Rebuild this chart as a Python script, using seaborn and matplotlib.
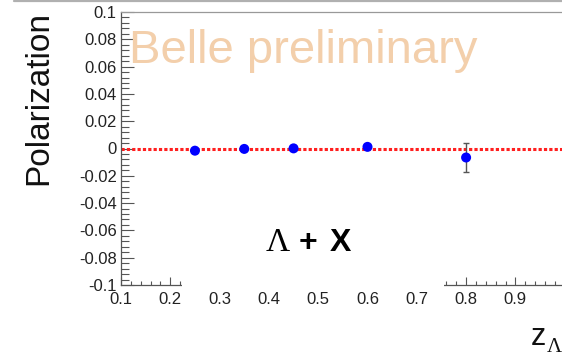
import numpy as np
import pandas as pd
import matplotlib
matplotlib.use("Agg")
import matplotlib.pyplot as plt
import seaborn as sns
from matplotlib.ticker import FixedLocator, FixedFormatter, MultipleLocator
from matplotlib.patches import Rectangle
from matplotlib.lines import Line2D

# Measured Lambda polarization versus fractional energy z
z_lambda = [0.25, 0.35, 0.45, 0.60, 0.80]
polarization = [-0.0016, -0.0003, 0.0001, 0.0012, -0.0066]
pol_error = [0.0012, 0.0012, 0.0012, 0.0014, 0.0105]

x_ticks = [0.1, 0.2, 0.3, 0.4, 0.5, 0.6, 0.7, 0.8, 0.9]
x_tick_labels = ["0.1", "0.2", "0.3", "0.4", "0.5", "0.6", "0.7", "0.8", "0.9"]
y_ticks = [0.1, 0.08, 0.06, 0.04, 0.02, 0.0, -0.02, -0.04, -0.06, -0.08, -0.1]
y_tick_labels = ["0.1", "0.08", "0.06", "0.04", "0.02", "0",
                 "-0.02", "-0.04", "-0.06", "-0.08", "-0.1"]

sns.set_theme(style="white")
plt.rcParams["font.family"] = ["Liberation Sans", "DejaVu Sans"]
plt.rcParams["axes.unicode_minus"] = False

W, H = 562, 361
fig = plt.figure(figsize=(W / 100, H / 100), dpi=100)
fig.patch.set_facecolor("white")


def fx(px):
    return px / W


def fy(py):
    return 1 - py / H


ax = fig.add_axes([fx(121), 76 / H, 443.7 / W, 273 / H])
ax.set_facecolor("white")

df = pd.DataFrame({"z": z_lambda, "pol": polarization, "err": pol_error})

# zero reference line
ax.axhline(0.0, color="#ff1f1f", lw=2.2, linestyle=(0, (1.05, 0.7)), zorder=2)

ax.errorbar(df["z"], df["pol"], yerr=df["err"], fmt="none", ecolor="#555555",
            elinewidth=1.0, capsize=2.0, capthick=1.0, zorder=3)
sns.scatterplot(data=df, x="z", y="pol", color="#0000ff", s=52, edgecolor="none",
                linewidth=0, zorder=4, ax=ax, legend=False)

ax.set_xlim(0.1, 1.0)
ax.set_ylim(-0.1, 0.1)
ax.set_xlabel("")
ax.set_ylabel("")

ax.xaxis.set_major_locator(FixedLocator(x_ticks))
ax.xaxis.set_major_formatter(FixedFormatter(x_tick_labels))
ax.xaxis.set_minor_locator(MultipleLocator(0.02))
ax.yaxis.set_major_locator(FixedLocator(y_ticks))
ax.yaxis.set_major_formatter(FixedFormatter(y_tick_labels))
ax.yaxis.set_minor_locator(MultipleLocator(0.004))

tick_col = "#555555"
ax.tick_params(axis="y", which="major", direction="in", left=True, length=9.5,
               width=0.8, color=tick_col, pad=3, labelsize=12, labelcolor="#222222")
ax.tick_params(axis="y", which="minor", direction="in", left=True, length=5.5,
               width=0.8, color=tick_col)
ax.tick_params(axis="x", which="major", direction="in", bottom=True, length=5.8,
               width=0.8, color=tick_col, pad=5, labelsize=12, labelcolor="#222222")
ax.tick_params(axis="x", which="minor", direction="in", bottom=True, length=3,
               width=0.8, color=tick_col)

for side in ["left", "bottom"]:
    ax.spines[side].set_color(tick_col)
    ax.spines[side].set_linewidth(0.9)
ax.spines["top"].set_color("#999999")
ax.spines["top"].set_linewidth(0.9)
ax.spines["right"].set_color("#999999")

# white label box hiding part of the lower axis
ax.add_patch(Rectangle((0.2237, -0.1032), 0.756 - 0.2237, 0.05,
                       facecolor="white", edgecolor="none", zorder=2.7,
                       clip_on=False))

# reaction label
ax.text(fx(266), fy(251), "\u039b", transform=fig.transFigure, fontsize=24,
        family=["Liberation Serif", "DejaVu Serif"], color="black",
        ha="left", va="baseline", zorder=5)
ax.text(fx(299), fy(251), "+", transform=fig.transFigure, fontsize=23,
        fontweight="bold", color="black", ha="left", va="baseline", zorder=5)
ax.text(fx(330), fy(251), "X", transform=fig.transFigure, fontsize=23,
        fontweight="bold", color="black", ha="left", va="baseline", zorder=5)

fig.text(fx(129), fy(63), "Belle preliminary", color="#f3cfab", fontsize=34,
         ha="left", va="baseline")

fig.text(fx(47), fy(98), "Polarization", rotation=90, rotation_mode="anchor",
         ha="center", va="baseline", fontsize=24, color="#111111")

fig.text(fx(531), fy(345), "z", fontsize=22, color="#111111",
         ha="left", va="baseline")
fig.text(fx(547), fy(352), "\u039b", fontsize=15, color="#111111",
         family=["Liberation Serif", "DejaVu Serif"], ha="left", va="baseline")

# frame border along the top edge
fig.add_artist(Line2D([fx(14), 1.0], [fy(1), fy(1)], color="#b0b0b0", lw=1.6,
                      transform=fig.transFigure))

fig.savefig("out.png", dpi=100)
